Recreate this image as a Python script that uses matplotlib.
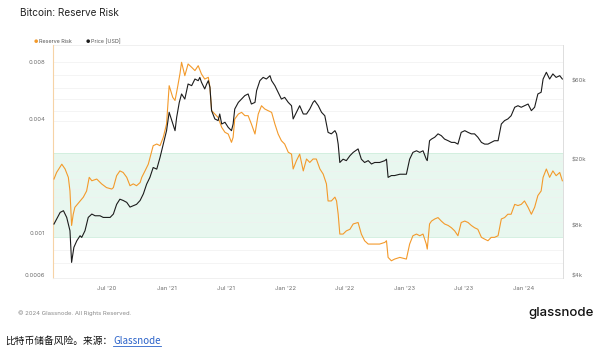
import matplotlib
matplotlib.use("Agg")
import numpy as np
import matplotlib.pyplot as plt
from matplotlib.lines import Line2D

# ---------------- data ----------------
# days since 2020-01-01
rr_days = [21, 29, 45, 55, 65, 70, 75, 80, 85, 101, 111, 121, 129, 137, 152, 167, 182, 198, 203,
           213, 223, 233, 244, 254, 264, 274, 285, 290, 300, 310, 325, 336, 346, 356, 366, 374,
           385, 392, 400, 407, 412, 422, 432, 443, 453, 463, 473, 483, 494, 499, 504, 514, 524,
           535, 545, 555, 565, 570, 575, 586, 596, 606, 616, 626, 637, 647, 657, 667, 677, 688,
           698, 708, 718, 728, 739, 749, 754, 764, 774, 785, 795, 805, 815, 825, 836, 846, 856,
           861, 871, 882, 887, 892, 897, 907, 917, 928, 938, 953, 963, 973, 984, 994, 1004, 1019,
           1035, 1040, 1045, 1055, 1065, 1081, 1101, 1111, 1121, 1132, 1142, 1152, 1162, 1165,
           1172, 1178, 1188, 1198, 1208, 1218, 1229, 1239, 1249, 1259, 1269, 1280, 1290, 1300,
           1310, 1320, 1331, 1341, 1351, 1361, 1371, 1382, 1392, 1402, 1412, 1422, 1433, 1443,
           1453, 1463, 1474, 1484, 1494, 1504, 1514, 1520, 1530, 1540, 1550, 1560, 1571, 1579]
rr_values = [0.00193, 0.00209, 0.00231, 0.00218, 0.00197, 0.00167, 0.00110, 0.00126, 0.00137,
             0.00148, 0.00155, 0.00167, 0.00197, 0.00189, 0.00193, 0.00182, 0.00174, 0.00171,
             0.00174, 0.00201, 0.00213, 0.00209, 0.00197, 0.00178, 0.00182, 0.00178, 0.00185,
             0.00197, 0.00213, 0.00231, 0.00289, 0.00295, 0.00289, 0.00320, 0.00376, 0.00598,
             0.00519, 0.00500, 0.00590, 0.00690, 0.00794, 0.00675, 0.00778, 0.00747, 0.00718,
             0.00762, 0.00689, 0.00648, 0.00662, 0.00586, 0.00442, 0.00424, 0.00407, 0.00361,
             0.00340, 0.00333, 0.00301, 0.00320, 0.00399, 0.00424, 0.00433, 0.00416, 0.00416,
             0.00376, 0.00333, 0.00424, 0.00469, 0.00451, 0.00442, 0.00433, 0.00376, 0.00333,
             0.00307, 0.00295, 0.00267, 0.00261, 0.00218, 0.00241, 0.00261, 0.00213, 0.00246,
             0.00236, 0.00246, 0.00246, 0.00218, 0.00205, 0.00182, 0.00148, 0.00148, 0.00155,
             0.00148, 0.00126, 0.000991, 0.000991, 0.00103, 0.00105, 0.00112, 0.00114, 0.000991,
             0.000914, 0.000878, 0.000878, 0.000878, 0.000878, 0.000896, 0.000914, 0.000747,
             0.000717, 0.000732, 0.000747, 0.000732, 0.000878, 0.000971, 0.000991, 0.000971,
             0.000991, 0.000878, 0.000826, 0.00112, 0.00116, 0.00119, 0.00121, 0.00116, 0.00112,
             0.00110, 0.00107, 0.00103, 0.000971, 0.00114, 0.00116, 0.00114, 0.00110, 0.00107,
             0.00105, 0.000952, 0.000932, 0.000914, 0.000952, 0.000952, 0.000971, 0.00119,
             0.00121, 0.00126, 0.00126, 0.00142, 0.00140, 0.00142, 0.00148, 0.00137, 0.00126,
             0.00137, 0.00158, 0.00167, 0.00197, 0.00218, 0.00197, 0.00213, 0.00201, 0.00209,
             0.00189]

price_days = [21, 40, 50, 60, 65, 70, 75, 82, 91, 101, 106, 116, 126, 137, 147, 162, 172, 193,
              203, 213, 223, 233, 244, 254, 264, 274, 285, 295, 305, 315, 325, 336, 346, 356, 366,
              374, 382, 392, 397, 405, 412, 422, 432, 443, 453, 463, 468, 473, 483, 489, 494, 499,
              504, 514, 524, 529, 535, 545, 555, 565, 570, 575, 586, 596, 606, 616, 626, 637, 642,
              652, 662, 672, 683, 688, 698, 708, 718, 728, 739, 749, 754, 764, 774, 785, 795, 805,
              815, 820, 831, 841, 851, 856, 861, 871, 882, 887, 892, 897, 907, 917, 928, 938, 953,
              963, 973, 984, 994, 1004, 1019, 1035, 1040, 1045, 1055, 1065, 1081, 1101, 1111, 1121,
              1132, 1142, 1152, 1162, 1165, 1172, 1178, 1188, 1198, 1208, 1218, 1229, 1239, 1249,
              1259, 1269, 1280, 1290, 1300, 1310, 1320, 1331, 1341, 1351, 1361, 1371, 1382, 1392,
              1402, 1412, 1422, 1433, 1443, 1453, 1463, 1474, 1484, 1494, 1504, 1514, 1520, 1530,
              1540, 1550, 1560, 1571, 1579]
price_values = [8220, 9660, 9890, 9010, 8220, 7490, 4830, 5950, 6520, 6990, 6830, 7490, 9010,
                9440, 9220, 9220, 9010, 9010, 9440, 10800, 11600, 11400, 11100, 10400, 10600,
                10800, 11400, 12500, 14300, 15700, 18000, 17600, 20700, 24900, 30000, 38700,
                34500, 30000, 36100, 44400, 49900, 46500, 57300, 56000, 61400, 60000, 62800,
                58700, 53500, 57300, 60000, 54700, 39600, 35300, 34500, 37800, 32900, 33700,
                31400, 30000, 32900, 40500, 44400, 46500, 48800, 49900, 43400, 44400, 52300,
                60000, 62800, 61400, 64300, 60000, 56000, 51100, 46500, 47600, 44400, 42400,
                35300, 38700, 42400, 37800, 37800, 40500, 44400, 45500, 42400, 38700, 36900,
                32900, 29300, 28700, 30000, 28700, 24900, 19300, 20200, 19800, 21200, 22200,
                23300, 20200, 19300, 19800, 18900, 19300, 19300, 19800, 20200, 15700, 16100,
                16100, 16400, 16400, 20200, 22200, 22700, 22200, 22700, 20200, 19800, 26100,
                26700, 27400, 28700, 28000, 26700, 26100, 25500, 25500, 24900, 29300, 30000,
                29300, 28700, 28700, 27400, 25500, 24900, 24900, 25500, 26100, 26100, 32900,
                34500, 35300, 36900, 41500, 42400, 41500, 42400, 43400, 39600, 41500, 49900,
                51100, 61400, 67400, 61400, 65900, 62800, 64300, 61400]

x_tick_dates = ["2020-07-01", "2021-01-01", "2021-07-01", "2022-01-01",
                "2022-07-01", "2023-01-01", "2023-07-01", "2024-01-01"]
x_tick_labels = ["Jul '20", "Jan '21", "Jul '21", "Jan '22",
                 "Jul '22", "Jan '23", "Jul '23", "Jan '24"]
rr_ticks = [0.008, 0.004, 0.001, 0.0006]
rr_tick_labels = ["0.008", "0.004", "0.001", "0.0006"]
price_ticks = [60000, 20000, 8000, 4000]
price_tick_labels = ["$60k", "$20k", "$8k", "$4k"]
band_low, band_high = 0.00096, 0.00264

# ---------------- style ----------------
ORANGE = "#f39a2b"
BLACK = "#1c1c1c"
TXT = "#6f6f6f"
FONT = ["Inter", "DejaVu Sans"]
plt.rcParams["font.family"] = FONT
grid_levels = [0.008, 0.0068, 0.0058, 0.0051, 0.0044, 0.0039, 0.0024, 0.00213, 0.00192,
               0.00172, 0.00156, 0.00128, 0.00115, 0.00082, 0.0007]

base = np.datetime64("2020-01-01")
rr_dates = base + np.array(rr_days).astype("timedelta64[D]")
price_dates = base + np.array(price_days).astype("timedelta64[D]")

fig = plt.figure(figsize=(6.0, 3.57), dpi=100)
W, H = 600, 357
left, right, top, bottom = 53, 563, 45, 278
ax = fig.add_axes([left / W, 1 - bottom / H, (right - left) / W, (bottom - top) / H])
ax2 = ax.twinx()

ax.set_yscale("log")
ax2.set_yscale("log")
ax.set_ylim(0.000582, 0.00979)
ax2.set_ylim(3890, 98400)
ax.set_xlim(base + np.timedelta64(18, "D"), base + np.timedelta64(1581, "D"))

# band and grid
ax.axhspan(band_low, band_high, color="#e8f7ef", lw=0, zorder=0)
for v in (band_low, band_high):
    ax.axhline(v, color="#cfeedd", lw=0.6, zorder=0.5)
for g in grid_levels:
    ax.axhline(g, color="#f0f0f0", lw=0.5, zorder=0.4)

ax.plot(rr_dates, rr_values, color=ORANGE, lw=0.8, zorder=3)
ax2.plot(price_dates, price_values, color=BLACK, lw=0.8, zorder=3)

# ticks
ax.set_xticks(np.array(x_tick_dates, dtype="datetime64[D]"))
ax.set_xticklabels(x_tick_labels)
ax.tick_params(axis="x", length=0, pad=6, labelsize=4.3, labelcolor=TXT)
ax.yaxis.set_minor_locator(matplotlib.ticker.NullLocator())
ax.set_yticks(rr_ticks)
ax.set_yticklabels(rr_tick_labels)
ax.tick_params(axis="y", length=0, pad=5.5, labelsize=4.3, labelcolor=TXT)
ax2.yaxis.set_minor_locator(matplotlib.ticker.NullLocator())
ax2.set_yticks(price_ticks)
ax2.set_yticklabels(price_tick_labels)
ax2.tick_params(axis="y", length=0, pad=6, labelsize=4.3, labelcolor=TXT)

for a in (ax, ax2):
    for s in ("top", "left", "right", "bottom"):
        a.spines[s].set_visible(False)
ax.spines["left"].set_visible(True)
ax.spines["left"].set_color("#f6d3a6")
ax.spines["left"].set_linewidth(0.8)
ax2.spines["right"].set_visible(True)
ax2.spines["right"].set_color("#dddddd")
ax2.spines["right"].set_linewidth(0.7)
ax.spines["bottom"].set_visible(True)
ax.spines["bottom"].set_color("#eeeeee")
ax.spines["bottom"].set_linewidth(0.6)
ax.axhline(0.00979, color="#eeeeee", lw=0.6)

# title, legend
fig.text(20 / W, 1 - 13 / H, "Bitcoin: Reserve Risk", fontsize=7.2, color="#222222", va="center")
fig.text(33.5 / W, 1 - 41.3 / H, "●", fontsize=3.5, color=ORANGE, va="center")
fig.text(39 / W, 1 - 41.3 / H, "Reserve Risk", fontsize=3.9, color="#555555", va="center")
fig.text(85.5 / W, 1 - 41.3 / H, "●", fontsize=3.5, color=BLACK, va="center")
fig.text(90.5 / W, 1 - 41.3 / H, "Price [USD]", fontsize=3.9, color="#555555", va="center")

# footer
fig.text(18 / W, 1 - 313 / H, "© 2024 Glassnode. All Rights Reserved.", fontsize=4.3,
         color="#8a8a8a", va="center")
fig.text(594 / W, 1 - 313 / H, "glassnode", fontsize=9.5, color="#111111", va="center",
         ha="right", weight="medium")

# caption
cjk = ["Noto Sans CJK SC", "DejaVu Sans"]
cap = fig.text(5 / W, 1 - 341 / H, "比特币储备风险。来源：", fontsize=7, color="#111111",
               va="center", family=cjk)
fig.canvas.draw()
r = fig.canvas.get_renderer()
bb = cap.get_window_extent(r)
link = fig.text(bb.x1 / W + 1 / W, 1 - 341 / H, "Glassnode", fontsize=7, color="#2a62c9",
                va="center", family=cjk)
fig.canvas.draw()
lb = link.get_window_extent(r)
fig.add_artist(Line2D([lb.x0 / W, lb.x1 / W], [(lb.y0 + 0.5) / H, (lb.y0 + 0.5) / H],
                      color="#2a62c9", lw=0.6, transform=fig.transFigure))

fig.savefig("out.png", dpi=100, facecolor="white")
